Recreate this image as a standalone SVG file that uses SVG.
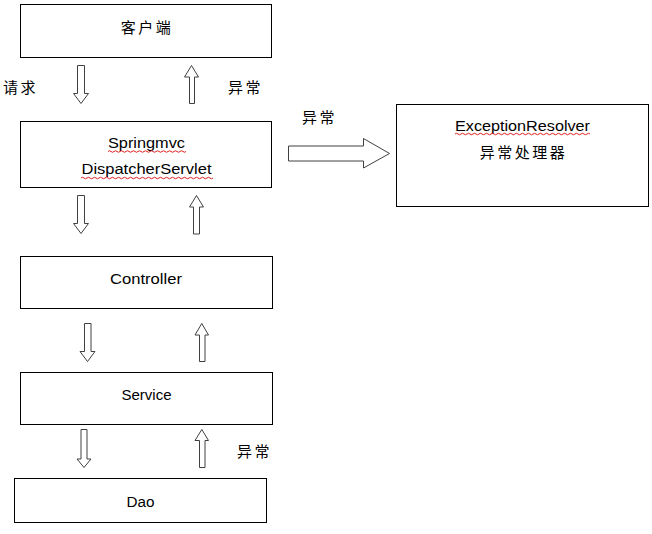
<svg xmlns="http://www.w3.org/2000/svg" width="652" height="534" viewBox="0 0 652 534">
<style>
.box{fill:#fff;stroke:#000;stroke-width:1}
.arr{fill:#fff;stroke:#404040;stroke-width:1;stroke-linejoin:miter}
.lat{font-family:"Liberation Sans",Arial,sans-serif;font-size:14px;fill:#000;text-anchor:middle}
.cjk{font-family:"Noto Sans CJK SC","Noto Sans",sans-serif;font-size:15px;fill:#000;letter-spacing:2.5px}
.cjkm{font-family:"Noto Sans CJK SC","Noto Sans",sans-serif;font-size:15px;fill:#000;letter-spacing:2.5px;text-anchor:middle}
.wavy{fill:none;stroke:#e02020;stroke-width:1}
</style>
<rect width="652" height="534" fill="#fff"/>
<g id="client">
<rect class="box" x="20.5" y="4.5" width="251" height="53"/>
<text class="cjkm" x="147" y="32.5">客户端</text>
</g>
<g id="dispatcher">
<rect class="box" x="20.5" y="121.5" width="251" height="66"/>
<text class="lat" x="146.5" y="147.5" textLength="77" lengthAdjust="spacingAndGlyphs">Springmvc</text>
<text class="lat" x="146.5" y="173.5" textLength="130" lengthAdjust="spacingAndGlyphs">DispatcherServlet</text>
<path class="wavy" d="M108,151.5 q1.5,-1.5 3,0 t3,0 t3,0 t3,0 t3,0 t3,0 t3,0 t3,0 t3,0 t3,0 t3,0 t3,0 t3,0 t3,0 t3,0 t3,0 t3,0 t3,0 t3,0 t3,0 t3,0 t3,0 t3,0 t3,0 t3,0 t3,0"/>
<path class="wavy" d="M81,178 q1.5,-1.5 3,0 t3,0 t3,0 t3,0 t3,0 t3,0 t3,0 t3,0 t3,0 t3,0 t3,0 t3,0 t3,0 t3,0 t3,0 t3,0 t3,0 t3,0 t3,0 t3,0 t3,0 t3,0 t3,0 t3,0 t3,0 t3,0 t3,0 t3,0 t3,0 t3,0 t3,0 t3,0 t3,0 t3,0 t3,0 t3,0 t3,0 t3,0 t3,0 t3,0 t3,0 t3,0 t3,0 t3,0"/>
</g>
<g id="controller">
<rect class="box" x="20.5" y="256.5" width="252" height="52"/>
<text class="lat" x="146" y="284" textLength="72" lengthAdjust="spacingAndGlyphs">Controller</text>
</g>
<g id="service">
<rect class="box" x="20.5" y="372.5" width="252" height="52"/>
<text class="lat" x="146.5" y="399.5" textLength="50" lengthAdjust="spacingAndGlyphs">Service</text>
</g>
<g id="dao">
<rect class="box" x="14.5" y="478.5" width="252" height="44"/>
<text class="lat" x="140.5" y="507" textLength="28" lengthAdjust="spacingAndGlyphs">Dao</text>
</g>
<g id="resolver">
<rect class="box" x="396.5" y="104.5" width="252" height="102"/>
<text class="lat" x="522.5" y="130.5" textLength="135" lengthAdjust="spacingAndGlyphs">ExceptionResolver</text>
<path class="wavy" d="M455,134 q1.5,-1.5 3,0 t3,0 t3,0 t3,0 t3,0 t3,0 t3,0 t3,0 t3,0 t3,0 t3,0 t3,0 t3,0 t3,0 t3,0 t3,0 t3,0 t3,0 t3,0 t3,0 t3,0 t3,0 t3,0 t3,0 t3,0 t3,0 t3,0 t3,0 t3,0 t3,0 t3,0 t3,0 t3,0 t3,0 t3,0 t3,0 t3,0 t3,0 t3,0 t3,0 t3,0 t3,0 t3,0 t3,0 t3,0"/>
<text class="cjkm" x="523.5" y="158">异常处理器</text>
</g>
<g id="connectors">
<path class="arr" d="M77.5,65.5 H84.5 V93.5 H88.5 L81,103.5 L73.5,93.5 H77.5 Z"/>
<path class="arr" d="M189.5,103.5 H194.5 V77 H198.5 L191.5,65.5 L184.5,77 H189.5 Z"/>
<path class="arr" d="M77.5,195.5 H84.5 V223.5 H88.5 L81,233.5 L73.5,223.5 H77.5 Z"/>
<path class="arr" d="M193.5,234 H199.5 V207 H203.5 L196.5,195.5 L189.5,207 H193.5 Z"/>
<path class="arr" d="M84.5,323.5 H91 V351.5 H95 L87.5,361.5 L80,351.5 H84.5 Z"/>
<path class="arr" d="M199.5,361.5 H205 V335 H208.5 L201.8,323.5 L195,335 H199.5 Z"/>
<path class="arr" d="M81,429.5 H87 V459 H91 L84,467.5 L77,459 H81 Z"/>
<path class="arr" d="M199.5,467.5 H205 V440.5 H208.5 L201.8,429.5 L195,440.5 H199.5 Z"/>
<path class="arr" d="M288.5,146 H363.5 V138.5 L389.5,153.5 L363.5,168 V161 H288.5 Z"/>
</g>
<g id="labels">
<text class="cjk" x="3" y="93">请求</text>
<text class="cjk" x="228" y="93">异常</text>
<text class="cjk" x="302" y="122.5">异常</text>
<text class="cjk" x="237" y="457">异常</text>
</g>
</svg>
